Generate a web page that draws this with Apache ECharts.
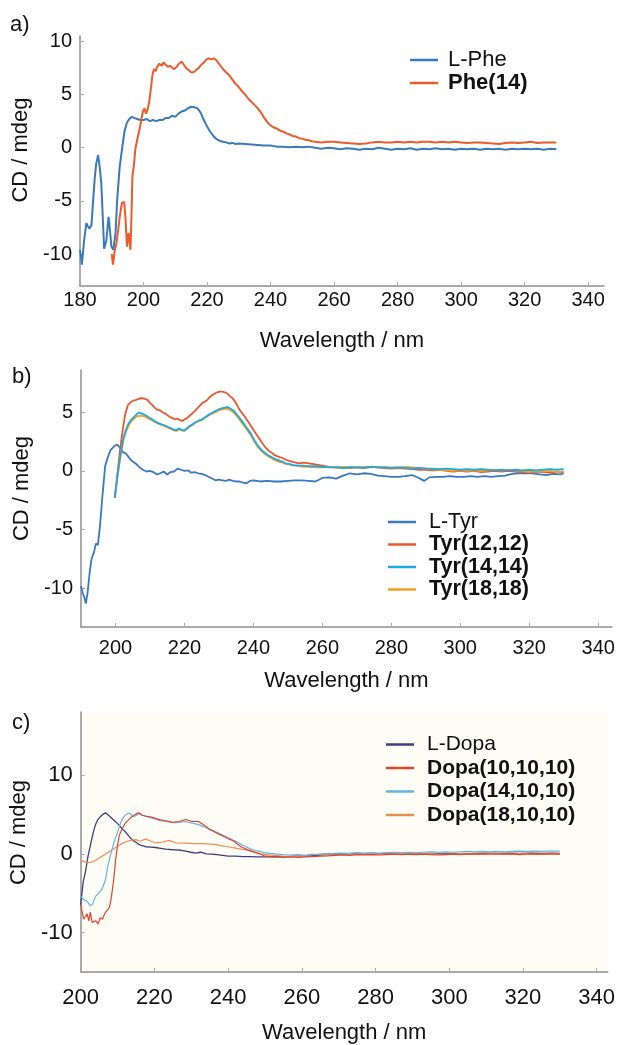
<!DOCTYPE html>
<html>
<head>
<meta charset="utf-8">
<script src="https://cdn.jsdelivr.net/npm/echarts@6/dist/echarts.min.js"></script>
<style>
html,body{margin:0;padding:0;background:#fff;}
#chart{width:618px;height:1045px;}
</style>
</head>
<body>
<div id="chart"></div>
<script>
// ---------- tick labels ----------
const xTicksA = [180, 200, 220, 240, 260, 280, 300, 320, 340];
const yTicksA = [-10, -5, 0, 5, 10];
const xTicksB = [200, 220, 240, 260, 280, 300, 320, 340];
const yTicksB = [-10, -5, 0, 5];
const xTicksC = [200, 220, 240, 260, 280, 300, 320, 340];
const yTicksC = [-10, 0, 10];

// ---------- panel a ----------
const namesA = ['L-Phe', 'Phe(14)'];
const lPhe = [[180,-9.6],[180.6,-11.0],[181.3,-8.7],[182,-7.1],[182.5,-7.4],[183,-7.6],[183.6,-7.3],[184.2,-7.3],[184.6,-3.0],[185.1,-1.5],[185.7,-0.7],[186.2,-1.8],[186.7,-3.3],[187.6,-9.5],[188.3,-8.7],[189,-6.5],[189.4,-7.7],[189.9,-9.3],[190.5,-9.6],[191.2,-8.0],[191.7,-4.9],[192.5,-1.8],[193.2,-0.2],[194,1.5],[194.7,2.3],[195.5,2.7],[196.3,2.9],[197,2.8],[198,2.7],[199,2.6],[200,2.6],[201,2.7],[202,2.5],[203,2.6],[204,2.5],[205,2.6],[206,2.6],[207,2.8],[208,2.8],[209,3.0],[210,2.9],[211,3.2],[212,3.4],[213,3.5],[214,3.7],[215,3.85],[216,3.8],[217,3.7],[218,3.3],[219,2.6],[220,2.0],[221,1.5],[222,1.1],[223,0.8],[224,0.65],[225,0.55],[226,0.5],[227,0.4],[228,0.45],[229,0.35],[230,0.4],[232,0.35],[234,0.3],[236,0.25],[238,0.2],[240,0.2],[242,0.1],[244,0.1],[246,0.05],[248,0.1],[250,0.05],[252,0.1],[254,0.0],[256,-0.1],[258,0.0],[260,-0.05],[262,-0.15],[264,-0.05],[266,-0.1],[268,-0.2],[270,-0.1],[272,-0.15],[274,0.0],[276,-0.1],[278,-0.2],[280,-0.1],[282,-0.15],[284,-0.05],[286,-0.2],[288,-0.1],[290,-0.15],[292,-0.05],[294,-0.15],[296,-0.1],[298,-0.2],[300,-0.1],[302,-0.15],[304,-0.1],[306,-0.2],[308,-0.1],[310,-0.15],[312,-0.1],[314,-0.2],[316,-0.1],[318,-0.15],[320,-0.1],[322,-0.15],[324,-0.1],[326,-0.2],[328,-0.1],[330,-0.15]];
const phe14 = [[190,-10.0],[190.4,-11.0],[190.9,-9.7],[191.4,-9.1],[192,-7.8],[192.5,-6.5],[193.2,-5.2],[193.9,-5.1],[194.3,-6.5],[194.8,-9.3],[195.3,-8.0],[195.9,-9.6],[196.2,-6.5],[196.5,-2.7],[197,-1.6],[197.4,-0.2],[197.9,0.6],[198.4,0.5],[198.8,1.8],[199.3,2.6],[199.8,3.4],[200.3,3.7],[200.8,3.2],[201.3,3.6],[201.8,4.3],[202.3,5.5],[202.8,6.8],[203.3,7.4],[203.8,7.2],[204.3,7.6],[205,7.9],[205.7,7.7],[206.3,8.0],[207,7.8],[207.7,7.6],[208.4,7.7],[209,7.5],[209.7,7.4],[210.4,7.6],[211.2,7.9],[212,8.1],[212.7,7.8],[213.4,7.5],[214.2,7.3],[215,7.1],[215.8,7.1],[216.6,7.3],[217.4,7.5],[218.2,7.8],[219,8.0],[219.8,8.3],[220.6,8.4],[221.4,8.3],[222.2,8.4],[223,8.2],[224,7.8],[225,7.4],[226,7.1],[227,6.8],[228,6.4],[229,6.0],[230,5.7],[231,5.3],[232,5.0],[233,4.6],[234,4.3],[235,4.0],[236,3.7],[237,3.3],[238,2.8],[239,2.4],[240,2.1],[241,1.9],[242,1.8],[243,1.6],[244,1.5],[245,1.35],[246,1.25],[247,1.1],[248,1.05],[249,0.9],[250,0.85],[251,0.75],[252,0.7],[253,0.6],[254,0.55],[256,0.5],[258,0.55],[260,0.55],[262,0.5],[264,0.45],[266,0.4],[268,0.35],[270,0.4],[272,0.5],[274,0.55],[276,0.5],[278,0.5],[280,0.55],[282,0.5],[284,0.55],[286,0.5],[288,0.55],[290,0.55],[292,0.5],[294,0.55],[296,0.5],[298,0.55],[300,0.5],[302,0.45],[304,0.5],[306,0.5],[308,0.45],[310,0.4],[312,0.35],[314,0.45],[316,0.5],[318,0.45],[320,0.5],[322,0.55],[324,0.45],[326,0.5],[328,0.5],[330,0.5]];

// ---------- panel b ----------
const namesB = ['L-Tyr', 'Tyr(12,12)', 'Tyr(14,14)', 'Tyr(18,18)'];
const lTyr = [[190,-9.8],[190.5,-10.4],[191,-10.8],[191.4,-11.3],[191.9,-10.4],[192.5,-8.7],[193,-7.6],[193.3,-7.3],[193.8,-6.9],[194.3,-6.2],[194.9,-6.3],[195.5,-4.7],[196.2,-2.2],[197,0.4],[197.7,1.1],[198.6,1.8],[199.6,2.1],[200.5,2.25],[201.5,1.9],[202.2,1.6],[203,1.5],[204,1.1],[205,0.8],[206,0.6],[207,0.3],[208,0.1],[209,-0.05],[210,0.0],[211,-0.1],[212,-0.3],[213,-0.2],[214,-0.05],[215,-0.3],[216,-0.1],[217,-0.05],[218,0.2],[219,0.1],[220,0.0],[221,0.05],[222,-0.15],[223,-0.1],[224,-0.2],[225,-0.25],[226,-0.35],[227,-0.5],[228,-0.65],[229,-0.8],[230,-0.75],[231,-0.8],[232,-0.85],[233,-0.75],[234,-0.85],[235,-0.9],[236,-0.9],[237,-1.0],[238,-1.05],[239,-0.85],[240,-0.8],[242,-0.9],[244,-0.85],[246,-0.9],[248,-0.9],[250,-0.85],[252,-0.8],[254,-0.8],[256,-0.85],[258,-0.9],[260,-0.6],[262,-0.55],[264,-0.65],[266,-0.4],[268,-0.2],[270,-0.3],[272,-0.2],[274,-0.25],[276,-0.4],[278,-0.45],[280,-0.5],[282,-0.5],[284,-0.45],[286,-0.35],[288,-0.6],[289.5,-0.85],[291,-0.55],[293,-0.5],[295,-0.5],[297,-0.45],[299,-0.5],[301,-0.5],[303,-0.45],[305,-0.5],[307,-0.45],[309,-0.5],[311,-0.45],[313,-0.4],[315,-0.25],[317,-0.2],[319,-0.2],[321,-0.2],[323,-0.3],[325,-0.35],[327,-0.25],[329,-0.3],[330,-0.2]];
const tyr12 = [[199.8,-2.3],[200.5,-0.5],[201.2,1.5],[202,3.3],[202.8,4.8],[203.6,5.6],[204.4,5.85],[205.2,6.0],[206,6.05],[206.8,6.15],[207.6,6.2],[208.4,6.15],[209.3,6.05],[210,5.8],[210.7,5.6],[211.5,5.35],[212.2,5.2],[213,5.15],[213.6,5.0],[214.4,4.9],[215,4.77],[215.8,4.6],[216.5,4.5],[217.2,4.4],[217.9,4.45],[218.6,4.35],[219.4,4.26],[220.1,4.4],[220.8,4.5],[221.5,4.7],[222.3,4.9],[223,5.1],[223.7,5.34],[224.4,5.55],[225.2,5.8],[225.9,5.9],[226.6,6.05],[227.4,6.3],[228.1,6.47],[228.8,6.6],[229.5,6.7],[230.2,6.75],[231,6.75],[231.7,6.7],[232.4,6.6],[233.1,6.4],[233.9,6.2],[234.6,5.95],[235.3,5.6],[236,5.2],[237.2,4.75],[238.7,4.1],[240,3.5],[241.4,2.9],[242.5,2.4],[243.5,2.0],[244.5,1.7],[245.5,1.5],[246.4,1.3],[247.4,1.2],[248.4,1.1],[249.4,0.95],[250.3,0.85],[251.7,0.75],[253.2,0.65],[254.6,0.7],[256.1,0.65],[258,0.55],[260,0.45],[262,0.35],[264,0.3],[266,0.3],[268,0.25],[270,0.3],[272,0.25],[274,0.35],[276,0.3],[278,0.25],[280,0.2],[282,0.25],[284,0.2],[286,0.15],[288,0.1],[290,0.1],[292,0.05],[294,0.1],[296,0.0],[298,-0.05],[300,0.0],[302,-0.05],[304,0.0],[306,-0.1],[308,-0.05],[310,0.0],[312,-0.05],[314,0.0],[316,-0.05],[318,-0.1],[320,-0.15],[322,-0.05],[324,-0.1],[326,-0.15],[328,-0.1],[330,-0.1]];
const tyr14 = [[199.8,-2.3],[200.6,-0.3],[201.5,1.5],[202.3,2.8],[203,3.5],[203.7,4.0],[204.4,4.3],[205.4,4.6],[206.2,4.85],[206.8,4.97],[207.5,4.9],[208.3,4.8],[209,4.7],[209.7,4.55],[210.6,4.4],[211.6,4.2],[212.6,4.05],[213.6,3.95],[214.5,3.85],[215.5,3.7],[216.3,3.6],[217,3.5],[217.7,3.5],[218.4,3.6],[219.2,3.5],[219.9,3.45],[220.6,3.6],[221.4,3.8],[222.3,3.95],[223.2,4.15],[224.2,4.3],[225.2,4.4],[226.1,4.6],[227.1,4.8],[228.1,4.95],[229,5.1],[230,5.25],[231,5.35],[231.8,5.4],[232.5,5.45],[233.4,5.3],[234.4,5.1],[235.5,4.7],[236.8,4.2],[238,3.7],[239.2,3.2],[240.3,2.6],[241.4,2.1],[242.5,1.75],[243.5,1.5],[244.5,1.3],[245.5,1.15],[246.4,1.0],[247.4,0.9],[248.4,0.8],[249.3,0.65],[250.3,0.6],[251.7,0.5],[253.2,0.45],[254.6,0.45],[256.1,0.4],[258,0.4],[260,0.35],[262,0.3],[264,0.3],[266,0.25],[268,0.3],[270,0.3],[272,0.25],[274,0.35],[276,0.3],[278,0.3],[280,0.25],[282,0.3],[284,0.25],[286,0.2],[288,0.25],[290,0.2],[292,0.2],[294,0.15],[296,0.2],[298,0.15],[300,0.1],[302,0.15],[304,0.1],[306,0.15],[308,0.1],[310,0.05],[312,0.1],[314,0.05],[316,0.1],[318,0.05],[320,0.1],[322,0.05],[324,0.1],[326,0.15],[328,0.1],[330,0.15]];
const tyr18 = [[199.8,-2.3],[200.6,-0.4],[201.5,1.3],[202.3,2.6],[203,3.3],[203.7,3.8],[204.4,4.15],[205.4,4.45],[206.2,4.65],[206.8,4.7],[207.5,4.7],[208.3,4.65],[209,4.55],[209.7,4.45],[210.6,4.3],[211.6,4.15],[212.6,4.0],[213.6,3.9],[214.5,3.8],[215.5,3.65],[216.3,3.55],[217,3.45],[217.7,3.4],[218.4,3.55],[219.2,3.45],[219.9,3.4],[220.6,3.55],[221.4,3.75],[222.3,3.9],[223.2,4.1],[224.2,4.25],[225.2,4.35],[226.1,4.55],[227.1,4.75],[228.1,4.9],[229,5.0],[230,5.15],[231,5.25],[231.8,5.3],[232.5,5.3],[233.4,5.15],[234.4,4.95],[235.5,4.55],[236.8,4.05],[238,3.55],[239.2,3.05],[240.3,2.5],[241.4,2.0],[242.5,1.65],[243.5,1.4],[244.5,1.2],[245.5,1.05],[246.4,0.9],[247.4,0.8],[248.4,0.7],[249.3,0.6],[250.3,0.55],[251.7,0.45],[253.2,0.4],[254.6,0.35],[256.1,0.35],[258,0.3],[260,0.3],[262,0.35],[264,0.3],[266,0.3],[268,0.35],[270,0.3],[272,0.35],[274,0.3],[276,0.35],[278,0.3],[280,0.3],[282,0.3],[284,0.35],[286,0.3],[288,0.25],[290,0.2],[292,0.15],[294,0.1],[296,0.05],[298,0.0],[300,0.05],[302,0.0],[304,0.05],[306,0.0],[308,0.05],[310,0.1],[312,0.05],[314,0.1],[316,0.05],[318,0.0],[320,-0.1],[322,0.0],[324,-0.05],[326,0.0],[328,-0.1],[330,-0.05]];

// ---------- panel c ----------
const namesC = ['L-Dopa', 'Dopa(10,10,10)', 'Dopa(14,10,10)', 'Dopa(18,10,10)'];
const lDopa = [[200,-6.5],[200.2,-5.6],[200.7,-3.5],[201.3,-2.3],[201.9,-0.5],[202.6,1.0],[203.3,2.5],[204,3.7],[204.6,4.3],[205.3,4.7],[206,5.0],[206.7,5.2],[207.3,5.0],[208,4.7],[208.7,4.4],[209.4,4.1],[210.1,3.8],[210.8,3.4],[211.4,3.1],[212.1,2.8],[212.8,2.4],[213.5,2.0],[214.2,1.7],[214.9,1.5],[215.5,1.3],[216.2,1.1],[217.6,0.9],[219,0.85],[220.3,0.8],[221.7,0.7],[223.1,0.6],[224.4,0.55],[225.8,0.5],[227.2,0.45],[228.5,0.35],[229.9,0.2],[231.2,0.08],[232.6,0.2],[234,0.0],[235.5,-0.05],[237,-0.1],[238.5,-0.2],[240,-0.3],[242,-0.3],[244,-0.35],[246,-0.35],[248,-0.4],[250,-0.4],[252,-0.35],[254,-0.4],[256,-0.35],[258,-0.3],[260,-0.25],[262,-0.25],[264,-0.2],[266,-0.1],[268,-0.05],[270,0.0],[272,-0.05],[274,0.05],[276,0.0],[278,-0.05],[280,0.0],[283,0.05],[286,0.0],[289,-0.05],[292,0.0],[295,0.05],[298,0.0],[301,0.05],[304,0.0],[307,0.05],[310,0.1],[313,0.05],[316,0.1],[319,0.05],[322,0.1],[325,0.05],[328,0.1],[330,0.05]];
const dopa10 = [[200,-6.4],[200.5,-7.6],[200.8,-8.3],[201.3,-8.5],[201.7,-7.6],[202.2,-8.5],[202.6,-7.4],[203.1,-8.7],[203.5,-8.9],[204.1,-8.5],[204.7,-8.9],[205.3,-8.1],[205.9,-8.3],[206.5,-7.6],[207.1,-7.2],[207.8,-6.8],[208.3,-5.6],[209,-3.1],[209.4,-1.1],[209.9,0.8],[210.5,2.4],[211.3,3.2],[212.1,3.9],[213,4.3],[213.9,4.7],[214.8,5.0],[215.8,5.2],[216.7,4.9],[217.6,4.8],[218.9,4.7],[220.3,4.5],[221.6,4.3],[223.1,4.2],[224.9,4.0],[226.7,4.1],[228.5,4.35],[230.3,4.1],[232,4.1],[233.6,3.6],[235,3.1],[236.2,2.8],[237.5,2.5],[238.9,2.2],[240.2,1.9],[241.6,1.6],[242.5,1.25],[243.5,0.9],[244.4,0.7],[245.3,0.5],[246.2,0.35],[247.1,0.2],[248.5,0.0],[249.8,-0.25],[251.5,-0.35],[253.4,-0.4],[255,-0.45],[257.1,-0.4],[259,-0.45],[261,-0.4],[263,-0.35],[265,-0.3],[267,-0.25],[269,-0.2],[271,-0.15],[273,-0.2],[275,-0.1],[277,-0.15],[279,-0.1],[281,-0.15],[283,-0.1],[285,-0.05],[287,-0.1],[289,-0.05],[291,-0.1],[293,-0.05],[295,-0.1],[297,-0.15],[299,-0.1],[301,-0.05],[303,-0.1],[305,0.0],[307,-0.05],[309,0.0],[311,-0.05],[313,0.0],[315,-0.05],[317,0.0],[319,-0.1],[321,-0.05],[323,0.0],[325,-0.05],[327,0.0],[330,-0.05]];
const dopa14 = [[200,-5.4],[200.8,-5.8],[201.7,-6.0],[202.6,-6.6],[203.2,-6.4],[204,-5.4],[204.9,-5.0],[205.8,-4.5],[206.7,-3.3],[207.4,-1.5],[208,-0.3],[209,1.4],[209.9,2.6],[210.8,3.9],[211.7,4.7],[212.6,5.1],[213.5,5.1],[214.1,4.7],[214.8,4.8],[215.8,5.1],[216.7,4.9],[217.6,4.75],[218.9,4.6],[220.3,4.4],[221.6,4.2],[223.1,4.1],[224.9,3.95],[226.7,4.0],[228.5,4.1],[230.3,3.9],[232,3.7],[233.6,3.4],[235,3.1],[236.2,2.9],[237.5,2.6],[238.9,2.3],[240.2,2.0],[241.6,1.7],[242.5,1.5],[243.5,1.2],[244.4,1.0],[245.3,0.8],[246.2,0.6],[247.1,0.45],[248.5,0.3],[249.8,0.15],[251.5,0.05],[253.4,-0.05],[255,-0.1],[257,-0.15],[259,-0.1],[261,-0.2],[263,-0.1],[265,-0.05],[267,0.0],[269,0.05],[271,0.1],[273,0.05],[275,0.15],[277,0.1],[279,0.15],[281,0.1],[283,0.15],[285,0.2],[287,0.15],[289,0.2],[291,0.15],[293,0.2],[295,0.25],[297,0.2],[299,0.25],[301,0.2],[303,0.25],[305,0.3],[307,0.25],[309,0.3],[311,0.25],[313,0.3],[315,0.25],[317,0.3],[319,0.35],[321,0.3],[323,0.35],[325,0.3],[327,0.35],[330,0.35]];
const dopa18 = [[200,-0.86],[201.3,-1.05],[202.6,-1.1],[204,-0.85],[205.3,-0.45],[206.7,-0.05],[208,0.37],[209.4,0.78],[210.8,1.2],[212.1,1.5],[213.5,1.7],[214.9,1.8],[216.2,1.6],[217.6,1.9],[219,1.6],[220.3,1.4],[222.2,1.5],[224,1.7],[225.8,1.4],[228.5,1.35],[230.5,1.3],[232.6,1.3],[234.4,1.25],[236.2,1.2],[238,1.05],[239.9,0.9],[241.7,0.75],[243.5,0.6],[245,0.5],[246.2,0.4],[247.5,0.2],[248.9,0.0],[250.7,-0.1],[252.5,-0.2],[254.8,-0.3],[257.1,-0.35],[259,-0.3],[261,-0.2],[262.5,-0.05],[264,-0.1],[266,0.0],[268,-0.05],[270,0.05],[272,0.0],[274,-0.05],[276,0.0],[278,0.05],[280,0.0],[282,-0.05],[284,0.0],[286,0.05],[288,0.0],[290,-0.05],[292,0.0],[294,0.05],[296,0.0],[298,-0.1],[300,-0.05],[302,0.0],[304,0.05],[306,0.0],[308,-0.05],[310,0.0],[312,0.05],[314,0.0],[316,-0.05],[318,0.0],[320,0.05],[322,0.0],[324,-0.05],[326,0.0],[328,0.05],[330,0.0]];

// ---------- styling ----------
const FONT = '"Liberation Sans", Arial, sans-serif';
const AXIS_COLOR = '#8f8f8f';
const TEXT = '#111';

function xAxisCfg(idx, min, max, ticks, labelSize, margin, nameGap) {
  return {
    gridIndex: idx, type: 'value', min: min, max: max,
    name: 'Wavelength / nm', nameLocation: 'middle', nameGap: nameGap,
    nameTextStyle: { fontSize: 22, color: TEXT, fontFamily: FONT },
    axisLine: { show: true, onZero: false, lineStyle: { color: AXIS_COLOR, width: 1.5 } },
    axisTick: { show: true, inside: true, length: 4, customValues: ticks, lineStyle: { color: '#aaa' } },
    axisLabel: { customValues: ticks, fontSize: labelSize, color: TEXT, fontFamily: FONT, margin: margin },
    splitLine: { show: false }
  };
}
function yAxisCfg(idx, min, max, ticks, labelSize, nameGap, shift) {
  return {
    gridIndex: idx, type: 'value', min: min, max: max,
    name: 'CD / mdeg', nameLocation: 'middle', nameGap: nameGap,
    nameTextStyle: { fontSize: 22, color: TEXT, fontFamily: FONT, padding: [0, 0, 0, shift] },
    axisLine: { show: true, onZero: false, lineStyle: { color: AXIS_COLOR, width: 1.5 } },
    axisTick: { show: true, inside: true, length: 4, customValues: ticks, lineStyle: { color: '#aaa' } },
    axisLabel: { customValues: ticks, fontSize: labelSize, color: TEXT, fontFamily: FONT, margin: 8 },
    splitLine: { show: false }
  };
}
function legendCfg(names, left, top, fontSize, gap, textPad) {
  return {
    data: names, orient: 'vertical', left: left, top: top,
    icon: 'rect', itemWidth: 28, itemHeight: 2.5, itemGap: gap,
    selectedMode: false,
    formatter: function (n) { return n.indexOf('L-') === 0 ? '{n|' + n + '}' : '{b|' + n + '}'; },
    textStyle: {
      fontFamily: FONT, color: TEXT, fontSize: fontSize, padding: [0, 0, 0, textPad],
      rich: {
        n: { fontFamily: FONT, color: TEXT, fontSize: fontSize, fontWeight: 'normal' },
        b: { fontFamily: FONT, color: TEXT, fontSize: fontSize, fontWeight: 'bold' }
      }
    }
  };
}
function line(name, data, color, width, g) {
  return {
    type: 'line', name: name, data: data, xAxisIndex: g, yAxisIndex: g,
    showSymbol: false, symbol: 'none', smooth: false,
    lineStyle: { color: color, width: width }, itemStyle: { color: color },
    z: 3
  };
}

const chart = echarts.init(document.getElementById('chart'), null, { renderer: 'canvas' });
chart.setOption({
  animation: false,
  backgroundColor: '#ffffff',
  grid: [
    { left: 80, top: 36, width: 524, height: 250 },
    { left: 81, top: 370, width: 531, height: 257 },
    { left: 79, top: 712, width: 530, height: 267, show: true, backgroundColor: '#fdfcf5', borderWidth: 0 }
  ],
  xAxis: [
    xAxisCfg(0, 180, 345, xTicksA, 20, 4, 44),
    xAxisCfg(1, 190, 344, xTicksB, 20, 11, 43),
    xAxisCfg(2, 200, 343, xTicksC, 22, 15, 50)
  ],
  yAxis: [
    yAxisCfg(0, -13, 10.5, yTicksA, 20, 42, 22),
    yAxisCfg(1, -13.3, 8.6, yTicksB, 20, 46, 20),
    yAxisCfg(2, -15, 18, yTicksC, 22, 43, 19)
  ],
  legend: [
    legendCfg(namesA, 405, 44, 22, 1, 5),
    legendCfg(namesB, 383, 506, 21.5, 0.5, 8),
    legendCfg(namesC, 381, 729, 21, 2.5, 8)
  ],
  graphic: [
    { type: 'text', left: 10, top: 14, style: { text: 'a)', fontSize: 22, fill: TEXT, fontFamily: FONT } },
    { type: 'text', left: 12, top: 366, style: { text: 'b)', fontSize: 22, fill: TEXT, fontFamily: FONT } },
    { type: 'text', left: 12, top: 712, style: { text: 'c)', fontSize: 22, fill: TEXT, fontFamily: FONT } }
  ],
  series: [
    line('L-Phe', lPhe, '#3a79bd', 2, 0),
    line('Phe(14)', phe14, '#ee5a2a', 2, 0),
    line('L-Tyr', lTyr, '#3b78c2', 1.8, 1),
    line('Tyr(12,12)', tyr12, '#e9582f', 1.8, 1),
    line('Tyr(18,18)', tyr18, '#f3a11e', 1.8, 1),
    line('Tyr(14,14)', tyr14, '#1ea9e1', 1.8, 1),
    line('L-Dopa', lDopa, '#3c3e7e', 1.3, 2),
    line('Dopa(18,10,10)', dopa18, '#f28c50', 1.2, 2),
    line('Dopa(14,10,10)', dopa14, '#67b4e0', 1.2, 2),
    line('Dopa(10,10,10)', dopa10, '#e0442c', 1.2, 2)
  ]
});
</script>
</body>
</html>
